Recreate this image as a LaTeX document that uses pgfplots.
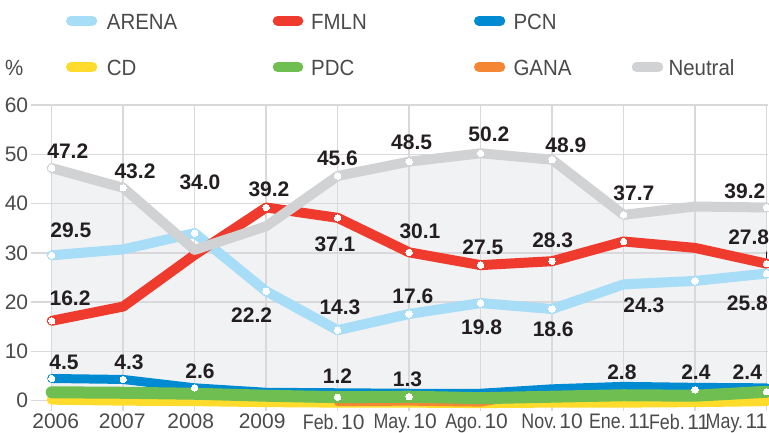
\documentclass[border=0pt]{standalone}
\usepackage{fontspec}
\setmainfont{Liberation Sans}
\newfontfamily\tickfont{Liberation Sans}[FakeStretch=0.93]
\newfontfamily\monthfont{Liberation Sans}[FakeStretch=0.85]
\usepackage{pgfplots}
\pgfplotsset{compat=1.18}

\definecolor{arena}{HTML}{A7DDF6}
\definecolor{fmln}{HTML}{EE3B2E}
\definecolor{pcn}{HTML}{008AD2}
\definecolor{cd}{HTML}{FFDC2B}
\definecolor{pdc}{HTML}{6FBE52}
\definecolor{gana}{HTML}{F58634}
\definecolor{neutral}{HTML}{D1D2D4}
\definecolor{shade}{HTML}{F1F2F4}
\definecolor{gridc}{HTML}{D9D9DB}
\definecolor{txt}{HTML}{231F20}
\definecolor{lt}{HTML}{4A4A4A}

\newcommand{\lab}{\fontsize{21}{21}\selectfont\bfseries}
\newcommand{\mo}[2]{{\monthfont #1}\hspace{0.12em}#2}

\begin{document}
\begin{tikzpicture}[x=1pt,y=1pt]
\begin{axis}[
    at={(30.7pt,21.5pt)}, anchor=south west,
    scale only axis, width=737.3pt, height=306.5pt,
    xmin=-0.294, xmax=10.02, ymin=-2.2, ymax=60,
    set layers=standard,
    clip=false,
    axis line style={draw=none},
    tick style={draw=none},
    grid=major,
    grid style={gridc, line width=1.5pt},
    xtick={0,...,10},
    xticklabels={\hspace*{16pt}2006,\hspace*{6pt}2007,2008,2009,\mo{Feb.}{10},\mo{May.}{10},\mo{Ago.}{10},\hspace*{8pt}\mo{Nov.}{10},\mo{Ene.}{11},\mo{Feb.}{11}\hspace*{24pt},\mo{May.}{11}\hspace*{52pt}},
    ytick={0,10,...,60},
    /pgf/number format/assume math mode=true,
    ticklabel style={font=\fontsize{21}{21}\selectfont, text=lt},
    xticklabel style={anchor=north, xshift=-4pt, yshift=1pt},
    yticklabel style={anchor=east, xshift=1pt},
    line cap=round, line join=round,
]
% shaded area under the Neutral series
\addplot[fill=shade, draw=none, on layer=axis background] coordinates {
    (0,47.2) (1,43.2) (2,30.6) (3,35.4) (4,45.6) (5,48.5) (6,50.2) (7,48.9) (8,37.7) (9,39.4) (10,39.2)
} \closedcycle;

% CD
\addplot[cd, line width=10pt] coordinates {
    (0,0.2) (1,0.0) (2,-0.1) (3,-0.3) (4,-0.4) (5,-0.4) (6,-0.5) (7,-0.4) (8,-0.4) (9,-0.3) (10,-0.1)
};
% GANA
\addplot[gana, line width=7pt] coordinates {
    (4,-0.4) (5,-0.3) (6,-0.5) (7,2.0) (8,2.4) (9,2.2) (10,2.5)
};
% PCN
\addplot[pcn, line width=9pt] coordinates {
    (0,4.5) (1,4.3) (2,2.6) (3,1.7) (4,1.6) (5,1.5) (6,1.5) (7,2.4) (8,2.9) (9,2.7) (10,2.6)
};
% PDC
\addplot[pdc, line width=12pt] coordinates {
    (0,1.7) (1,1.6) (2,1.4) (3,1.0) (4,0.7) (5,0.8) (6,0.5) (7,0.8) (8,1.1) (9,1.0) (10,1.8)
};
% ARENA
\addplot[arena, line width=10pt] coordinates {
    (0,29.5) (1,30.7) (2,34.0) (3,22.2) (4,14.3) (5,17.6) (6,19.8) (7,18.6) (8,23.6) (9,24.3) (10,25.8)
};
% FMLN
\addplot[fmln, line width=10pt] coordinates {
    (0,16.2) (1,19.1) (2,29.6) (3,39.2) (4,37.1) (5,30.1) (6,27.5) (7,28.3) (8,32.3) (9,31.0) (10,27.8)
};
% Neutral
\addplot[neutral, line width=10pt] coordinates {
    (0,47.2) (1,43.2) (2,30.6) (3,35.4) (4,45.6) (5,48.5) (6,50.2) (7,48.9) (8,37.7) (9,39.4) (10,39.2)
};

% white dots
\addplot[white, only marks, mark=*, mark size=3.2pt, mark options={fill=white, draw=white, line width=0pt}] coordinates {
    (0,47.2) (1,43.2) (4,45.6) (5,48.5) (6,50.2) (7,48.9) (8,37.7) (10,39.2)
    (0,29.5) (2,34.0) (3,22.2) (4,14.3) (5,17.6) (6,19.8) (7,18.6) (9,24.3) (10,25.8)
    (0,16.2) (3,39.2) (4,37.1) (5,30.1) (6,27.5) (7,28.3) (8,32.3) (10,27.8)
    (0,4.5) (1,4.3) (2,2.6)
    (4,0.7) (5,0.8) (10,1.8) (9,2.2)
};

% value labels
\begin{scope}[every node/.style={font=\lab, text=txt, inner sep=0pt}]
\node at (axis cs:0.225,50.72) {47.2};
\node at (axis cs:1.165,46.48) {43.2};
\node at (axis cs:3.997,49.26) {45.6};
\node at (axis cs:5.035,52.4) {48.5};
\node at (axis cs:6.116,53.97) {50.2};
\node at (axis cs:7.193,51.8) {48.9};
\node at (axis cs:8.144,42.16) {37.7};
\node at (axis cs:9.697,42.56) {39.2};
\node at (axis cs:0.267,34.65) {29.5};
\node at (axis cs:2.074,44.29) {34.0};
\node at (axis cs:2.797,17.39) {22.2};
\node at (axis cs:4.032,18.92) {14.3};
\node at (axis cs:5.053,21.25) {17.6};
\node at (axis cs:6.014,14.82) {19.8};
\node at (axis cs:7.015,14.41) {18.6};
\node at (axis cs:8.284,19.42) {24.3};
\node at (axis cs:9.731,19.77) {25.8};
\node at (axis cs:0.256,20.78) {16.2};
\node at (axis cs:3.039,42.97) {39.2};
\node at (axis cs:3.962,31.66) {37.1};
\node at (axis cs:5.151,34.4) {30.1};
\node at (axis cs:6.032,31.2) {27.5};
\node at (axis cs:7.008,32.58) {28.3};
\node at (axis cs:9.75,33.16) {27.8};
\node at (axis cs:0.172,7.75) {4.5};
\node at (axis cs:1.081,7.75) {4.3};
\node at (axis cs:2.074,5.89) {2.6};
\node at (axis cs:3.997,4.87) {1.2};
\node at (axis cs:4.976,4.4) {1.3};
\node at (axis cs:7.976,5.72) {2.8};
\node at (axis cs:9.011,5.72) {2.4};
\node at (axis cs:9.731,5.72) {2.4};
\end{scope}
\draw[txt, line width=0.8pt] (axis cs:10,30.2) -- (axis cs:10,28.9);
\end{axis}

% legend
\begin{scope}[line width=10pt, line cap=round]
\draw[arena]   (71,412.2) -- (92.3,412.2);
\draw[fmln]    (277.7,412.2) -- (298.3,412.2);
\draw[pcn]     (479,412.2) -- (500.3,412.2);
\draw[cd]      (71,366) -- (92.3,366);
\draw[pdc]     (277.7,366) -- (298.3,366);
\draw[gana]    (479,366) -- (500.3,366);
\draw[neutral] (636.7,366) -- (658.3,366);
\end{scope}
\begin{scope}[every node/.style={font=\tickfont\fontsize{22}{22}\selectfont, text=lt, inner sep=0pt, anchor=base west}]
\node at (106.7,403) {ARENA};
\node at (311,403) {FMLN};
\node at (513.3,403) {PCN};
\node at (106.7,357.3) {CD};
\node at (311,357.3) {PDC};
\node at (513.3,357.3) {GANA};
\node at (668.3,357.3) {Neutral};
\node at (5,357.3) {\%};
\end{scope}
\pgfresetboundingbox
\useasboundingbox (0,0) rectangle (769,433);
\end{tikzpicture}
\end{document}
